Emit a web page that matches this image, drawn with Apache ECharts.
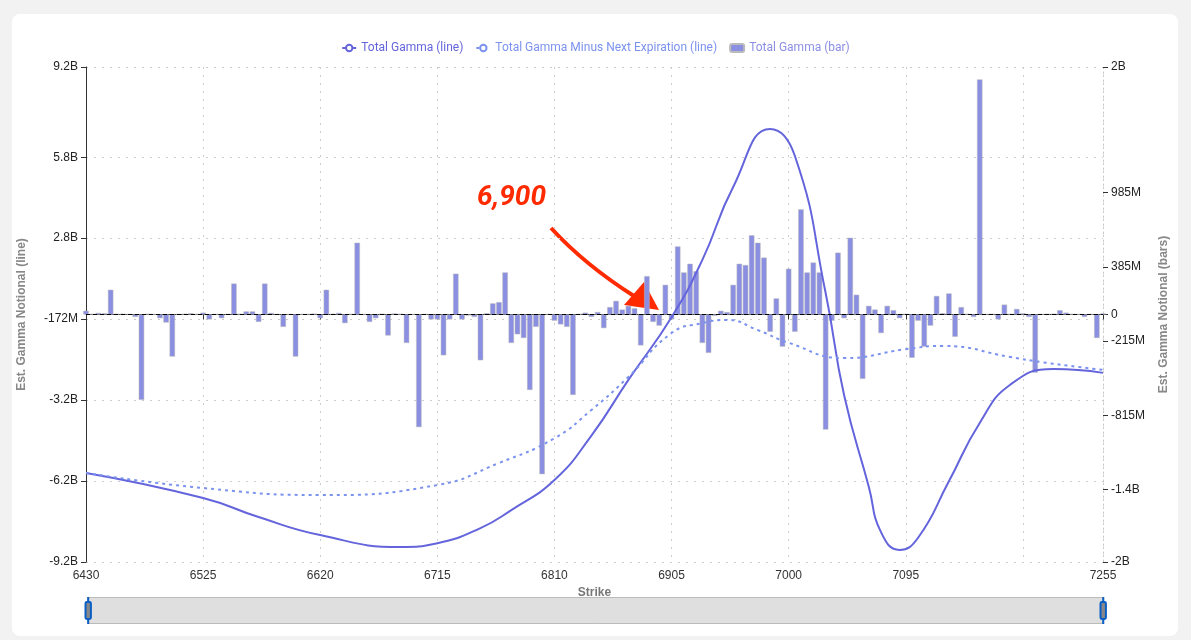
<!DOCTYPE html>
<html>
<head>
<meta charset="utf-8">
<script src="https://cdn.jsdelivr.net/npm/echarts@6/dist/echarts.min.js"></script>
<style>
  html, body { margin: 0; padding: 0; background: #f2f2f2; }
  #card { position: absolute; left: 12px; top: 14px; width: 1166px; height: 622px; background: #fff; border-radius: 8px; }
  #main { position: absolute; left: 0; top: 0; width: 1191px; height: 640px; }
</style>
</head>
<body>
<div id="card"></div>
<div id="main"></div>
<script>
// strikes 6430..7255 step 5
var strikes = [];
for (var s = 6430; s <= 7255; s += 5) strikes.push(String(s));

// total gamma line (B), read at selected strikes
var totalGammaStrikes = ['6430','6525','6570','6620','6685','6715','6750','6775','6810','6840','6870','6905','6930','6955','6985','7005','7030','7045','7065','7075','7090','7105','7130','7155','7180','7215','7255'];
var totalGammaVals = [-5.89,-6.82,-7.53,-8.2,-8.64,-8.5,-7.94,-7.27,-6.15,-4.5,-2.43,-0.1,2.03,4.74,6.9,5.9,0.8,-3.0,-6.4,-8.1,-8.75,-8.3,-6.2,-4.03,-2.6,-2.03,-2.17];

// total gamma minus next expiration line (B)
var minusNextStrikes = ['6430','6525','6620','6715','6765','6810','6840','6870','6905','6930','6950','6975','7000','7045','7095','7125','7180','7205','7255'];
var minusNextVals = [-5.89,-6.45,-6.71,-6.34,-5.52,-4.6,-3.55,-2.32,-0.69,-0.32,-0.2,-0.58,-1.05,-1.62,-1.29,-1.17,-1.58,-1.77,-2.06];

// total gamma bars (B), one per strike
var barVals = [
  0.03,0.005,0.013,0.01,0.2,0.005,0.006,0.003,-0.02,-0.69,
  0.006,0.002,-0.03,-0.065,-0.34,0.003,0.006,0.01,0.004,0.015,
  -0.04,0.003,-0.03,0.004,0.25,0.005,0.025,0.025,-0.06,0.25,
  0.013,0.003,-0.1,0.002,-0.34,0.003,0.004,0.007,-0.03,0.2,
  0.005,0.013,-0.07,0.004,0.58,0.003,-0.06,-0.03,0.005,-0.17,
  0.008,0.006,-0.23,0.002,-0.91,0.003,-0.04,-0.04,-0.33,-0.04,
  0.33,-0.04,-0.008,-0.02,-0.37,0.01,0.09,0.1,0.34,-0.23,
  -0.16,-0.19,-0.61,-0.1,-1.29,0.003,-0.05,-0.08,-0.1,-0.65,
  0.004,0.015,-0.02,0.02,-0.11,0.06,0.11,0.04,0.07,0.05,
  -0.25,0.31,-0.06,-0.09,0.24,-0.04,0.55,0.34,0.41,0.35,
  -0.23,-0.31,-0.01,0.03,0.02,0.24,0.41,0.4,0.64,0.58,
  0.46,-0.14,0.13,-0.26,0.37,-0.14,0.85,0.34,0.42,0.34,
  -0.93,-0.05,0.5,-0.03,0.62,0.16,-0.52,0.07,0.04,-0.15,
  0.07,0.035,-0.03,0.004,-0.35,-0.05,-0.26,-0.09,0.15,0.01,
  0.17,-0.18,0.06,0.005,-0.02,1.9,0.003,0.004,-0.04,0.08,
  0.005,0.045,0.01,-0.02,-0.47,0.003,0.004,0.006,0.035,0.015,
  0.005,0.003,-0.02,0.003,-0.19,0.008
];

var leftTicks = [-9.2e9, -6.19e9, -3.18e9, -0.172e9, 2.84e9, 5.84e9, 9.2e9];
var rightTicks = [-2e9, -1.415e9, -0.815e9, -0.215e9, 0, 0.385e9, 0.985e9, 2e9];

var C_LINE = '#6464dc', C_DASH = '#7b92ee', C_BAR = '#8b8fe2';

function fmt(v) {
  if (v === 0) return '0';
  var a = Math.abs(v);
  if (a >= 1e9) return (Math.round(v / 1e8) / 10) + 'B';
  return Math.round(v / 1e6) + 'M';
}
function pairs(xs, ys) { return xs.map(function (x, i) { return [x, ys[i] * 1e9]; }); }
function showLabel(i) { return (i % 19 === 0 && i !== 152) || i === strikes.length - 1; }

var chart = echarts.init(document.getElementById('main'));
chart.setOption({
  animation: false,
  legend: {
    top: 37, itemGap: 12, itemWidth: 14, itemHeight: 8,
    textStyle: { fontSize: 12, fontFamily: 'Roboto' },
    data: [
      { name: 'Total Gamma (line)', textStyle: { color: C_LINE } },
      { name: 'Total Gamma Minus Next Expiration (line)', textStyle: { color: C_DASH } },
      { name: 'Total Gamma (bar)', textStyle: { color: C_BAR } }
    ]
  },
  grid: { left: 86, right: 88, top: 67, bottom: 78 },
  xAxis: {
    type: 'category', data: strikes, boundaryGap: false,
    name: 'Strike', nameLocation: 'middle', nameGap: 14,
    nameTextStyle: { color: '#777', fontWeight: 'bold', fontSize: 12 },
    axisLine: { lineStyle: { color: '#333' } },
    axisTick: { interval: showLabel, lineStyle: { color: '#333' } },
    axisLabel: { interval: showLabel, color: '#333', fontSize: 12, showMaxLabel: true },
    splitLine: { show: true, interval: 18, lineStyle: { type: [2, 6], color: '#ccc' } }
  },
  yAxis: [{
    type: 'value', min: -9.2e9, max: 9.2e9,
    name: 'Est. Gamma Notional (line)', nameLocation: 'middle', nameGap: 58,
    nameTextStyle: { color: '#888', fontWeight: 'bold', fontSize: 12 },
    axisLine: { show: true, lineStyle: { color: '#333' } },
    axisTick: { show: true, customValues: leftTicks },
    axisLabel: { customValues: leftTicks, formatter: fmt, color: '#222', fontSize: 12 },
    splitLine: { show: true, lineStyle: { type: [2, 6], color: '#ccc' } }
  }, {
    type: 'value', min: -2e9, max: 2e9,
    name: 'Est. Gamma Notional (bars)', nameLocation: 'middle', nameGap: 55,
    nameTextStyle: { color: '#888', fontWeight: 'bold', fontSize: 12 },
    axisLine: { show: true, lineStyle: { color: '#ccc', type: [2, 6] } },
    axisTick: { show: true, customValues: rightTicks, lineStyle: { color: '#333' } },
    axisLabel: { customValues: rightTicks, formatter: fmt, color: '#222', fontSize: 12 },
    splitLine: { show: false }
  }],
  dataZoom: [{
    type: 'slider', xAxisIndex: 0, start: 0, end: 100, filterMode: 'none',
    left: 86, right: 88, bottom: 16, height: 27,
    showDataShadow: false, moveHandleSize: 0, brushSelect: false,
    borderColor: '#bbb', fillerColor: 'rgba(200,200,200,0.5)', backgroundColor: '#f7f7f7',
    handleStyle: { color: '#888', borderColor: '#0a5fc4', borderWidth: 2 },
    textStyle: { color: '#999' }
  }],
  series: [{
    name: 'Total Gamma (bar)', type: 'bar', yAxisIndex: 1,
    data: barVals.map(function (v) { return v * 1e9; }),
    barCategoryGap: '12%',
    itemStyle: { color: C_BAR, borderColor: '#bbb', borderWidth: 0.5 },
    markLine: {
      silent: true, symbol: 'none', label: { show: false },
      lineStyle: { color: '#000', type: [4, 3], width: 1 },
      data: [{ yAxis: 0 }]
    }
  }, {
    name: 'Total Gamma (line)', type: 'line', yAxisIndex: 0, smooth: 0.5,
    data: pairs(totalGammaStrikes, totalGammaVals), showSymbol: false,
    lineStyle: { color: C_LINE, width: 2 }, itemStyle: { color: C_LINE }
  }, {
    name: 'Total Gamma Minus Next Expiration (line)', type: 'line', yAxisIndex: 0, smooth: 0.5,
    data: pairs(minusNextStrikes, minusNextVals), showSymbol: false,
    lineStyle: { color: C_DASH, width: 2, type: [3, 4] }, itemStyle: { color: C_DASH }
  }],
  graphic: [
    { type: 'text', left: 477, top: 184, style: { text: '6,900', fill: '#ff2a00', font: 'italic bold 28px Roboto' } },
    { type: 'bezierCurve', shape: { x1: 551, y1: 228, x2: 634, y2: 296, cpx1: 585, cpy1: 265 }, style: { stroke: '#ff2a00', lineWidth: 4, fill: null } },
    { type: 'polygon', shape: { points: [[659, 310], [624, 305], [644, 282]] }, style: { fill: '#ff2a00' } }
  ]
});
</script>
</body>
</html>
